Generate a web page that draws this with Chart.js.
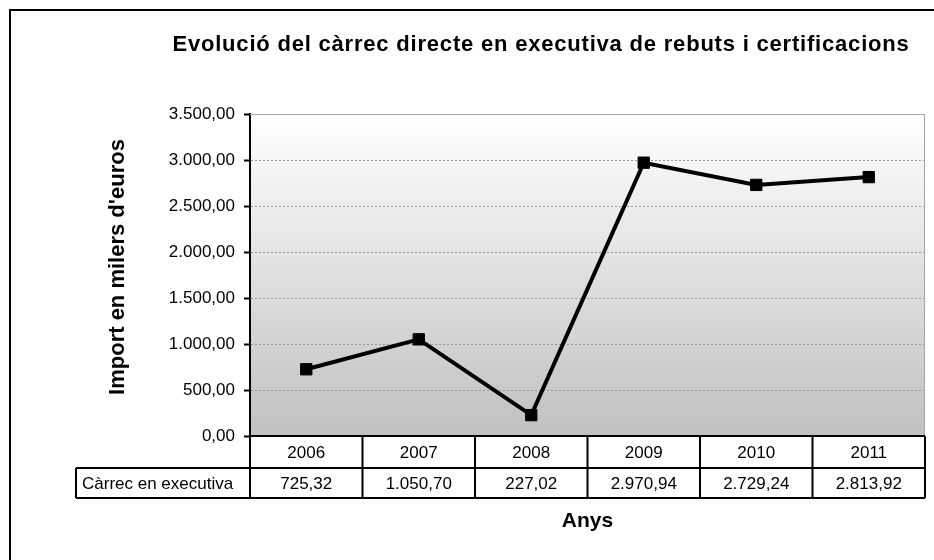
<!DOCTYPE html>
<html>
<head>
<meta charset="utf-8">
<title>Evolució del càrrec directe en executiva</title>
<script src="https://cdn.jsdelivr.net/npm/chart.js@4.4.1/dist/chart.umd.min.js"></script>
<style>
  html, body { margin: 0; padding: 0; background: #fff; }
  canvas { display: block; }
</style>
</head>
<body>
<canvas id="chart" width="934" height="560"></canvas>
<script>
// data
const years = ['2006', '2007', '2008', '2009', '2010', '2011'];
const carrecValues = [725.32, 1050.70, 227.02, 2970.94, 2729.24, 2813.92];
const seriesLabel = 'Càrrec en executiva';
const yTicks = [0, 500, 1000, 1500, 2000, 2500, 3000, 3500];

const FONT = '"Liberation Sans", Arial, sans-serif';

// 3500 -> "3.500,00"
function fmt(v) {
  const parts = v.toFixed(2).split('.');
  const intPart = parts[0].replace(/\B(?=(\d{3})+(?!\d))/g, '.');
  return intPart + ',' + parts[1];
}

// background, gradient plot area, titles and data table
const decorations = {
  id: 'decorations',
  beforeDraw(chart) {
    const { ctx, chartArea: a } = chart;
    ctx.save();
    ctx.fillStyle = '#fff';
    ctx.fillRect(0, 0, chart.width, chart.height);
    const g = ctx.createLinearGradient(0, a.top, 0, a.bottom);
    g.addColorStop(0, '#ffffff');
    g.addColorStop(1, '#c0c0c0');
    ctx.fillStyle = g;
    ctx.fillRect(a.left, a.top, a.right - a.left, a.bottom - a.top);
    ctx.restore();
  },
  afterDraw(chart) {
    const { ctx, chartArea: a } = chart;
    const x = chart.scales.x;
    ctx.save();

    // plot border top / right
    ctx.strokeStyle = '#a6a6a6';
    ctx.lineWidth = 1;
    ctx.beginPath();
    ctx.moveTo(a.left, a.top + 0.5);
    ctx.lineTo(a.right - 0.5, a.top + 0.5);
    ctx.lineTo(a.right - 0.5, a.bottom);
    ctx.stroke();

    // title
    ctx.fillStyle = '#000';
    ctx.font = 'bold 22px ' + FONT;
    ctx.letterSpacing = '0.8px';
    ctx.textAlign = 'center';
    ctx.textBaseline = 'middle';
    ctx.fillText('Evolució del càrrec directe en executiva de rebuts i certificacions', 541, 45);
    ctx.letterSpacing = '0px';

    // y axis title
    ctx.save();
    ctx.translate(118, 267);
    ctx.rotate(-Math.PI / 2);
    ctx.font = 'bold 22px ' + FONT;
    ctx.fillText("Import en milers d'euros", 0, 0);
    ctx.restore();

    // data table
    const row1 = a.bottom, row2 = a.bottom + 32, row3 = a.bottom + 62;
    const labelLeft = 76;
    const colW = (a.right - a.left) / years.length;
    ctx.strokeStyle = '#000';
    ctx.lineWidth = 2;
    ctx.beginPath();
    ctx.moveTo(a.left, row1); ctx.lineTo(a.right, row1);
    ctx.moveTo(labelLeft, row2); ctx.lineTo(a.right, row2);
    ctx.moveTo(labelLeft, row3); ctx.lineTo(a.right, row3);
    ctx.moveTo(labelLeft, row2); ctx.lineTo(labelLeft, row3);
    ctx.moveTo(a.left, row1); ctx.lineTo(a.left, row3);
    years.forEach((y, i) => {
      const right = x.getPixelForValue(i) + colW / 2;
      ctx.moveTo(right, row1); ctx.lineTo(right, row3);
    });
    ctx.stroke();

    ctx.font = '17px ' + FONT;
    ctx.textBaseline = 'middle';
    ctx.textAlign = 'left';
    ctx.fillText(seriesLabel, labelLeft + 6, (row2 + row3) / 2 + 1);
    ctx.textAlign = 'center';
    years.forEach((y, i) => {
      const cx = x.getPixelForValue(i);
      ctx.fillText(y, cx, (row1 + row2) / 2 + 1);
      ctx.fillText(fmt(carrecValues[i]), cx, (row2 + row3) / 2 + 1);
    });

    // x axis title
    ctx.font = 'bold 21px ' + FONT;
    ctx.fillText('Anys', (a.left + a.right) / 2, 521);

    // outer frame (runs off the right and bottom edge)
    ctx.lineWidth = 2;
    ctx.strokeRect(10, 10, 1000, 1000);
    ctx.restore();
  }
};

new Chart(document.getElementById('chart'), {
  type: 'line',
  data: {
    labels: years,
    datasets: [{
      label: seriesLabel,
      data: carrecValues,
      borderColor: '#000',
      backgroundColor: '#000',
      borderWidth: 4,
      pointStyle: 'rect',
      pointRadius: 8,
      pointBorderWidth: 1,
      pointBackgroundColor: '#000',
      tension: 0
    }]
  },
  options: {
    responsive: false,
    animation: false,
    layout: { padding: { left: 10, top: 114, right: 2, bottom: 124 } },
    plugins: {
      legend: { display: false },
      tooltip: { enabled: false }
    },
    scales: {
      x: {
        display: false,
        offset: true
      },
      y: {
        min: 0,
        max: 3500,
        afterBuildTicks: (scale) => { scale.ticks = yTicks.map(v => ({ value: v })); },
        afterFit: (scale) => { scale.width = 240; },
        ticks: {
          color: '#000',
          padding: 9,
          font: { family: FONT, size: 17 },
          callback: (v) => fmt(v)
        },
        grid: {
          color: '#9a9a9a',
          lineWidth: 1,
          tickLength: 6,
          tickColor: '#000',
          tickWidth: 2,
          tickBorderDash: []
        },
        border: { color: '#000', width: 2, dash: [2, 2] }
      }
    }
  },
  plugins: [decorations]
});
</script>
</body>
</html>
